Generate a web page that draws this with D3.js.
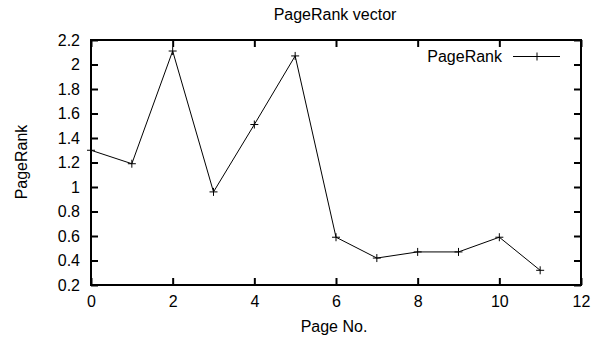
<!DOCTYPE html>
<html>
<head>
<meta charset="utf-8">
<script src="https://cdn.jsdelivr.net/npm/d3@7"></script>
<style>
  html, body { margin: 0; padding: 0; background: #fff; }
  svg { display: block; font-family: "Liberation Sans", Arial, sans-serif; }
</style>
</head>
<body>
<svg id="chart" width="592" height="337"></svg>
<script>
// Page indices and their PageRank scores
const pages = [0, 1, 2, 3, 4, 5, 6, 7, 8, 9, 10, 11];
const pageRank = [1.30, 1.19, 2.11, 0.96, 1.51, 2.07, 0.59, 0.42, 0.47, 0.47, 0.59, 0.32];
const xTicks = [0, 2, 4, 6, 8, 10, 12];
const yTicks = [0.2, 0.4, 0.6, 0.8, 1.0, 1.2, 1.4, 1.6, 1.8, 2.0, 2.2];

const svg = d3.select("#chart");
const m = { left: 91, right: 581, top: 40, bottom: 285 };

const x = d3.scaleLinear().domain([0, 12]).range([m.left, m.right]);
const y = d3.scaleLinear().domain([0.2, 2.2]).range([m.bottom, m.top]);

const fmt = d => String(+d.toFixed(1));
const tickLen = 7;
const fontSize = 16;
const fontFamily = "'Liberation Sans', Arial, sans-serif";

// Bottom axis: labels + inward ticks
const axBottom = svg.append("g").attr("transform", `translate(0,${m.bottom})`)
  .call(d3.axisBottom(x).tickValues(xTicks).tickSize(-tickLen).tickPadding(11).tickFormat(fmt));
// Top mirror ticks
const axTop = svg.append("g").attr("transform", `translate(0,${m.top})`)
  .call(d3.axisTop(x).tickValues(xTicks).tickSize(-tickLen).tickFormat(""));
// Left axis
const axLeft = svg.append("g").attr("transform", `translate(${m.left},0)`)
  .call(d3.axisLeft(y).tickValues(yTicks).tickSize(-tickLen).tickPadding(11).tickFormat(fmt));
// Right mirror ticks
const axRight = svg.append("g").attr("transform", `translate(${m.right},0)`)
  .call(d3.axisRight(y).tickValues(yTicks).tickSize(-tickLen).tickFormat(""));

[axBottom, axTop, axLeft, axRight].forEach(g => {
  g.select(".domain").remove();
  g.selectAll(".tick line").attr("stroke", "#000").attr("stroke-width", 2);
  g.selectAll("text").attr("fill", "#000").attr("font-size", fontSize)
    .attr("font-family", fontFamily);
});

// Plot frame
svg.append("rect")
  .attr("x", m.left).attr("y", m.top)
  .attr("width", m.right - m.left).attr("height", m.bottom - m.top)
  .attr("fill", "none").attr("stroke", "#000").attr("stroke-width", 2);

// Data line
const line = d3.line().x((d, i) => x(pages[i])).y(d => y(d));
svg.append("path").datum(pageRank)
  .attr("d", line).attr("fill", "none").attr("stroke", "#000").attr("stroke-width", 1);

// Point markers (+)
const s = 4;
const marks = svg.append("g").attr("stroke", "#000").attr("stroke-width", 1);
pageRank.forEach((v, i) => {
  const cx = x(pages[i]), cy = y(v);
  marks.append("line").attr("x1", cx - s).attr("x2", cx + s).attr("y1", cy).attr("y2", cy);
  marks.append("line").attr("x1", cx).attr("x2", cx).attr("y1", cy - s).attr("y2", cy + s);
});

// Legend
const lg = svg.append("g");
lg.append("text").attr("x", 502).attr("y", 62).attr("text-anchor", "end")
  .attr("font-size", fontSize).attr("font-family", fontFamily).text("PageRank");
lg.append("line").attr("x1", 513).attr("x2", 560).attr("y1", 56.5).attr("y2", 56.5)
  .attr("stroke", "#000").attr("stroke-width", 1);
lg.append("line").attr("x1", 537 - s).attr("x2", 537 + s).attr("y1", 56.5).attr("y2", 56.5)
  .attr("stroke", "#000");
lg.append("line").attr("x1", 537).attr("x2", 537).attr("y1", 56.5 - s).attr("y2", 56.5 + s)
  .attr("stroke", "#000");

// Title and axis labels
svg.append("text").attr("x", 335).attr("y", 20).attr("text-anchor", "middle")
  .attr("font-size", fontSize).attr("font-family", fontFamily).text("PageRank vector");
svg.append("text").attr("x", 334).attr("y", 332).attr("text-anchor", "middle")
  .attr("font-size", fontSize).attr("font-family", fontFamily).text("Page No.");
svg.append("text").attr("transform", "translate(27,162) rotate(-90)")
  .attr("text-anchor", "middle").attr("font-size", fontSize)
  .attr("font-family", fontFamily).text("PageRank");
</script>
</body>
</html>
